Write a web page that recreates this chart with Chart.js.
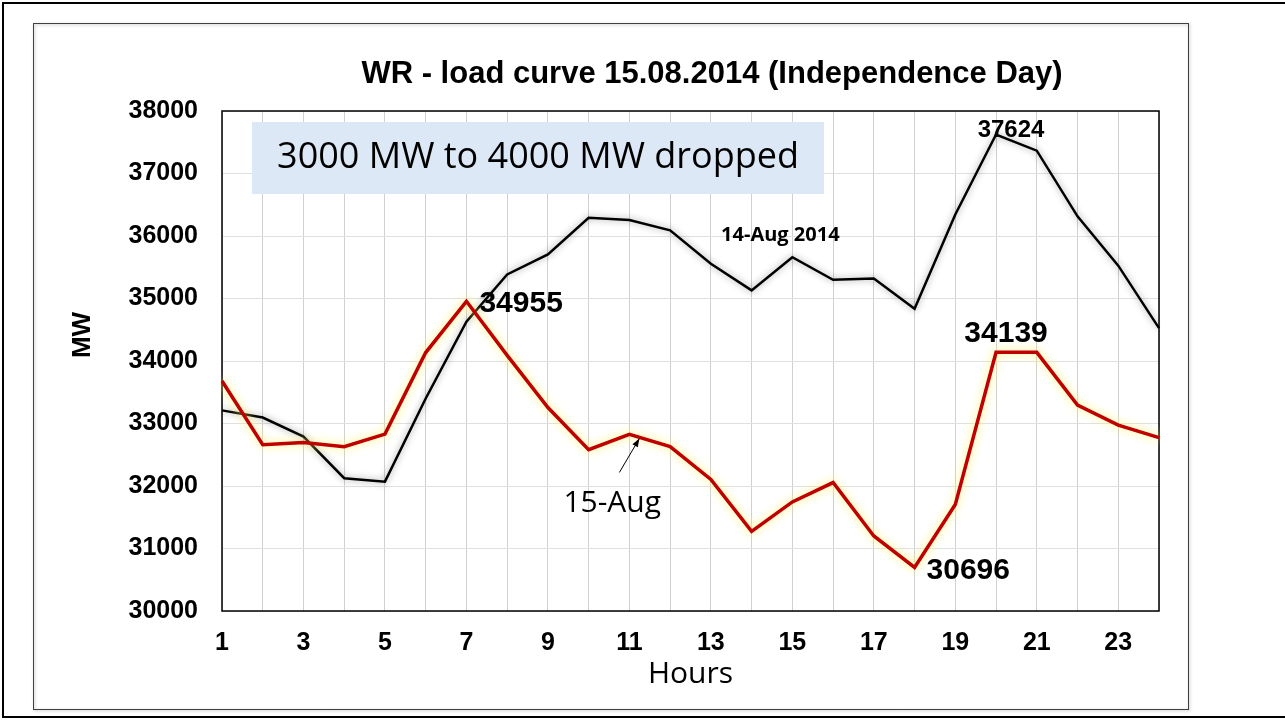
<!DOCTYPE html>
<html>
<head>
<meta charset="utf-8">
<script src="https://cdn.jsdelivr.net/npm/chart.js@4.4.1/dist/chart.umd.min.js"></script>
<style>
  body{margin:0;background:#fff;}
  canvas{display:block;}
</style>
</head>
<body>
<canvas id="chart" width="1285" height="721"></canvas>
<script>
const hours=["1","2","3","4","5","6","7","8","9","10","11","12","13","14","15","16","17","18","19","20","21","22","23","24"];
const load14Aug=[33210,33095,32790,32125,32070,33400,34630,35385,35705,36290,36255,36090,35555,35130,35660,35300,35320,34835,36345,37624,37365,36315,35525,34525];
const load15Aug=[33680,32660,32695,32630,32830,34135,34955,34090,33255,32580,32825,32630,32105,31275,31745,32055,31200,30696,31705,34139,34139,33295,32975,32775];
const yTicks=[30000,31000,32000,33000,34000,35000,36000,37000,38000];
const titleText="WR - load curve 15.08.2014 (Independence Day)";
const boxText="3000 MW to 4000 MW dropped";

let loadChart=new class LoadChart{
  initialize(){
    const ctx=document.getElementById("chart");
    Chart.defaults.color="#000";

    new Chart(ctx, {
      type: "line",
      data: {
        labels: hours,
        datasets: [{
          label: "14-Aug 2014",
          data: load14Aug,
          borderColor: "#000",
          borderWidth: 2.5,
          glowColor: "rgba(0,0,0,0.4)",
          glowBlur: 7,
          order: 2,
        }, {
          label: "15-Aug",
          data: load15Aug,
          borderColor: "#c00000",
          borderWidth: 3.5,
          glowColor: "rgba(255,240,100,1)",
          glowBlur: 10,
          order: 1,
        }]
      },
      options: {
        responsive: false,
        animation: false,
        layout: {padding: {left: 40, right: 126, top: 111, bottom: 21}},
        elements: {point: {radius: 0}, line: {tension: 0}},
        plugins: {legend: {display: false}, tooltip: {enabled: false}},
        scales: {
          x: {
            offset: false,
            grid: {color: "#d0d0d0", drawTicks: false, offset: false},
            border: {display: false},
            ticks: {
              autoSkip: false,
              maxRotation: 0,
              padding: 17,
              font: {family: "'Liberation Sans', Arial", size: 25, weight: "bold"},
              callback: (v, i) => i%2==0 ? hours[i] : "",
            },
            title: {
              display: true,
              text: "Hours",
              font: {family: "'Open Sans'", size: 30},
              padding: {top: 0, bottom: 8},
            },
            afterFit: s => { s.height=89; },
          },
          y: {
            min: 30000,
            max: 38000,
            grid: {color: "#e0e0e0", drawTicks: false},
            border: {display: false},
            afterBuildTicks: s => { s.ticks=yTicks.map(v => ({value: v})); },
            ticks: {
              padding: 24,
              font: {family: "'Liberation Sans', Arial", size: 25, weight: "bold"},
              callback: v => String(v),
            },
            afterFit: s => { s.width=182; },
          }
        }
      },
      plugins: [this.glowPlugin(), this.notesPlugin()],
    });
  }

  glowPlugin(){
    return {
      id: "glow",
      beforeDatasetDraw(chart, args){
        const ds=chart.data.datasets[args.index];
        chart.ctx.save();
        chart.ctx.shadowColor=ds.glowColor;
        chart.ctx.shadowBlur=ds.glowBlur;
      },
      afterDatasetDraw(chart){
        chart.ctx.restore();
      }
    };
  }

  notesPlugin(){
    return {
      id: "notes",
      beforeDatasetsDraw(chart){
        const {ctx, chartArea: a}=chart;
        ctx.save();
        // text box over the grid
        const bx=a.left+30, by=a.top+11, bw=572, bh=72;
        ctx.fillStyle="#dce8f5";
        ctx.fillRect(bx, by, bw, bh);
        ctx.fillStyle="#000";
        ctx.font="36px 'Open Sans'";
        ctx.textAlign="center";
        ctx.textBaseline="middle";
        ctx.fillText(boxText, bx+bw/2, by+bh/2);
        ctx.strokeStyle="#000";
        ctx.lineWidth=1.5;
        ctx.strokeRect(a.left, a.top, a.right-a.left, a.bottom-a.top);
        ctx.restore();
      },
      afterDatasetsDraw(chart){
        const ctx=chart.ctx;
        const p14=chart.getDatasetMeta(0).data;
        const p15=chart.getDatasetMeta(1).data;
        const peak14=load14Aug.indexOf(Math.max(...load14Aug));
        const morn15=load15Aug.indexOf(Math.max(...load15Aug.slice(0, 12)));
        const eve15=load15Aug.indexOf(Math.max(...load15Aug.slice(12)));
        const low15=load15Aug.indexOf(Math.min(...load15Aug));
        ctx.save();
        ctx.fillStyle="#000";
        ctx.textBaseline="alphabetic";

        ctx.font="bold 30px 'Liberation Sans', Arial";
        ctx.textAlign="left";
        ctx.fillText(String(load15Aug[morn15]), p15[morn15].x+13, p15[morn15].y+11);
        ctx.fillText(String(load15Aug[low15]), p15[low15].x+12, p15[low15].y+11);
        ctx.textAlign="center";
        ctx.fillText(String(load15Aug[eve15]), p15[eve15].x+10, p15[eve15].y-10);

        ctx.font="bold 24px 'Liberation Sans', Arial";
        ctx.fillText(String(load14Aug[peak14]), p14[peak14].x+15, p14[peak14].y+2);

        ctx.font="bold 20px 'Open Sans'";
        ctx.fillText("14-Aug 2014", p14[14].x-12, p14[14].y-16);

        // 15-Aug label with arrow
        const t=p15[10];
        ctx.font="30px 'Open Sans'";
        ctx.textAlign="left";
        ctx.fillText("15-Aug", t.x-66, t.y+78);
        const x0=t.x-10, y0=t.y+38, x1=t.x+10, y1=t.y+4;
        ctx.strokeStyle="#000";
        ctx.lineWidth=1;
        ctx.beginPath();
        ctx.moveTo(x0, y0);
        ctx.lineTo(x1, y1);
        ctx.stroke();
        const ang=Math.atan2(y1-y0, x1-x0);
        ctx.beginPath();
        ctx.moveTo(x1, y1);
        ctx.lineTo(x1-9*Math.cos(ang-0.35), y1-9*Math.sin(ang-0.35));
        ctx.lineTo(x1-9*Math.cos(ang+0.35), y1-9*Math.sin(ang+0.35));
        ctx.closePath();
        ctx.fill();
        ctx.restore();
      },
      afterDraw(chart){
        const ctx=chart.ctx;
        ctx.save();
        ctx.fillStyle="#000";
        ctx.font="bold 31px 'Liberation Sans', Arial";
        ctx.textAlign="center";
        ctx.textBaseline="middle";
        ctx.fillText(titleText, 712, 74);

        ctx.font="bold 26px 'Liberation Sans', Arial";
        ctx.translate(83, 335);
        ctx.rotate(-Math.PI/2);
        ctx.fillText("MW", 0, 0);
        ctx.setTransform(1, 0, 0, 1, 0, 0);

        // frames
        ctx.shadowColor="rgba(0,0,0,0.3)";
        ctx.shadowBlur=3;
        ctx.shadowOffsetX=1;
        ctx.shadowOffsetY=1;
        ctx.strokeStyle="#404040";
        ctx.lineWidth=1;
        ctx.strokeRect(33.5, 23.5, 1155, 686);
        ctx.shadowColor="transparent";
        ctx.strokeStyle="#000";
        ctx.lineWidth=2;
        ctx.beginPath();
        ctx.moveTo(1285, 3);
        ctx.lineTo(3, 3);
        ctx.lineTo(3, 717);
        ctx.lineTo(1285, 717);
        ctx.stroke();
        ctx.restore();
      }
    };
  }
}

loadChart.initialize();
</script>
</body>
</html>
